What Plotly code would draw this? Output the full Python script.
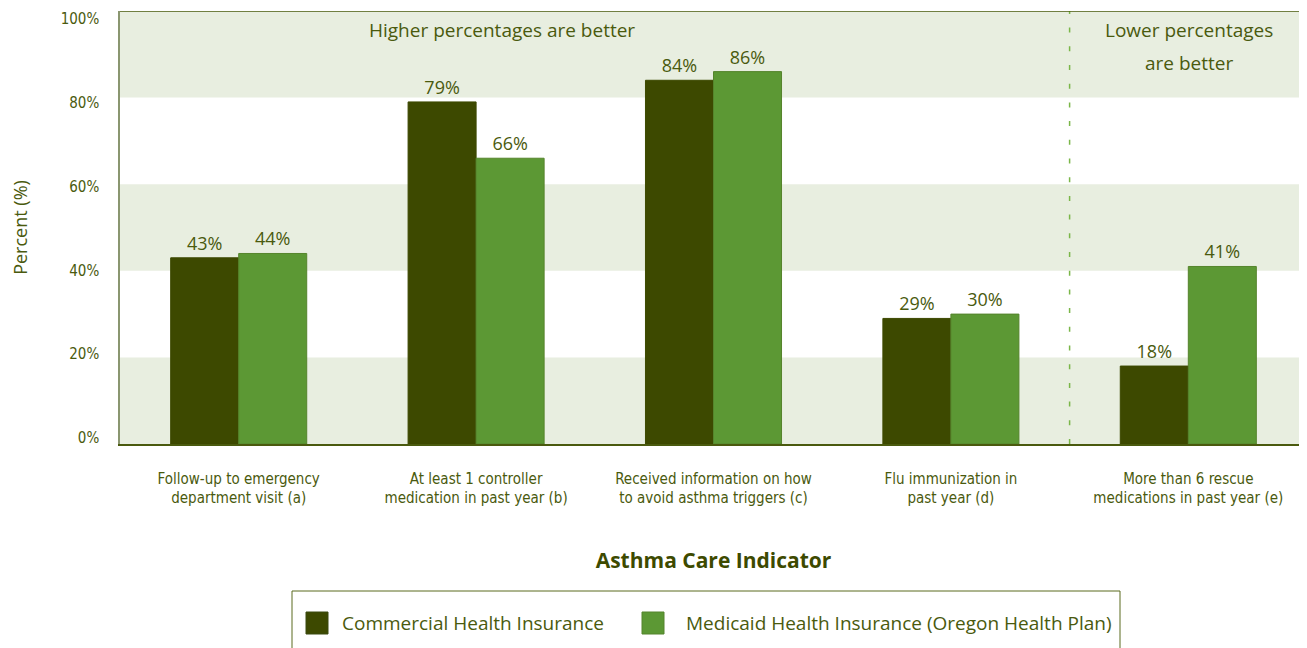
import plotly.graph_objects as go

categories = [
    "Follow-up to emergency<br>department visit (a)",
    "At least 1 controller<br>medication in past year (b)",
    "Received information on how<br>to avoid asthma triggers (c)",
    "Flu immunization in<br>past year (d)",
    "More than 6 rescue<br>medications in past year (e)",
]
commercial = [43, 79, 84, 29, 18]
medicaid = [44, 66, 86, 30, 41]
series_names = ["Commercial Health Insurance", "Medicaid Health Insurance (Oregon Health Plan)"]
y_ticks = [0, 20, 40, 60, 80, 100]

TXT = "#4A5A0E"
DARK = "#3D4900"
LIGHT = "#5C9834"
BAND = "#E8EEE0"
COND = "Liberation Sans Narrow, DejaVu Sans Condensed, Roboto, sans-serif"
REG = "Open Sans, Noto Sans, sans-serif"

# the page body adds an 8px offset, so the figure is 8px smaller and shifted
OFF = 8
W, H = 1307 - OFF, 648 - OFF
L, R, T, B = 120 - OFF, 0, 11 - OFF, 204
PW, PH = W - L - R, H - T - B


def px(x):
    return (x - OFF - L) / PW


def py(y):
    return (H - B - (y - OFF)) / PH


fig = go.Figure()
fig.add_trace(go.Bar(
    x=categories, y=commercial, name=series_names[0],
    marker=dict(color=DARK, line=dict(color=DARK, width=1)),
    text=[f"{v}%" for v in commercial], textposition="outside",
    textfont=dict(family=REG, size=18, color=TXT), cliponaxis=False,
))
fig.add_trace(go.Bar(
    x=categories, y=medicaid, name=series_names[1],
    marker=dict(color=LIGHT, line=dict(color="#55842C", width=1)),
    text=[f"{v}%" for v in medicaid], textposition="outside",
    textfont=dict(family=REG, size=18, color=TXT), cliponaxis=False,
))

shapes = []
for lo in (0, 40, 80):
    shapes.append(dict(type="rect", xref="paper", yref="y", x0=0, x1=1, y0=lo, y1=lo + 20,
                       fillcolor=BAND, line=dict(width=0), layer="below"))
shapes.append(dict(type="line", xref="x", yref="y", x0=3.5, x1=3.5, y0=0, y1=100,
                   line=dict(color="#7AB648", width=1.5, dash="5px,13.7px")))
shapes.append(dict(type="line", xref="paper", yref="y", x0=0, x1=1, y0=100, y1=100,
                   line=dict(color="#4A5A0E", width=1.5)))

# legend box (bottom edge runs off the page, as in the reference)
shapes.append(dict(type="rect", xref="paper", yref="paper", x0=px(292), x1=px(1120),
                   y0=py(700), y1=py(591), line=dict(color="#5A6A1E", width=1),
                   fillcolor="rgba(0,0,0,0)"))
legend_colors = [DARK, LIGHT]
legend_sq_x = [306, 642]
legend_txt_x = [340, 684]
annotations = [
    dict(text="Higher percentages are better", xref="x", yref="y", x=1.11, y=95.6,
         showarrow=False, font=dict(family=REG, size=19, color=TXT)),
    dict(text="Lower percentages", xref="x", yref="y", x=4.005, y=95.6,
         showarrow=False, font=dict(family=REG, size=19, color=TXT)),
    dict(text="are better", xref="x", yref="y", x=4.005, y=88.0,
         showarrow=False, font=dict(family=REG, size=19, color=TXT)),
]
for name, col, sx, tx in zip(series_names, legend_colors, legend_sq_x, legend_txt_x):
    shapes.append(dict(type="rect", xref="paper", yref="paper", x0=px(sx), x1=px(sx + 22),
                       y0=py(634), y1=py(612), fillcolor=col,
                       line=dict(color="#3A4A10" if col == DARK else "#55842C", width=1)))
    annotations.append(dict(text=name, xref="paper", yref="paper", x=px(tx), y=py(623),
                            xanchor="left", yanchor="middle", showarrow=False,
                            font=dict(family=REG, size=19, color=TXT)))

fig.update_layout(
    width=W, height=H,
    margin=dict(l=L, r=R, t=T, b=B),
    plot_bgcolor="white", paper_bgcolor="white",
    barmode="group", bargap=0.427, bargroupgap=0,
    shapes=shapes, annotations=annotations,
    showlegend=False,
    font=dict(family=REG, color=TXT),
)
fig.update_xaxes(
    range=[-0.5, 4.5], showline=True, linecolor="#4A5A0E", linewidth=1.5,
    ticks="", tickfont=dict(family=COND, size=15, color=TXT), ticklabelstandoff=20,
    title=dict(text="<b>Asthma Care Indicator</b>", font=dict(family=REG, size=21, color="#3D4A00"),
               standoff=47),
    showgrid=False, automargin=False,
)
# the reference's tick labels sit slightly inside the 0-100 span (no tick marks drawn)
label_pos = [1.4 + v * 0.968 for v in y_ticks]
fig.update_yaxes(
    range=[0, 100], tickvals=label_pos, ticktext=[f"{v}%" for v in y_ticks],
    showline=True, linecolor="#8A9670", linewidth=1.5, showgrid=False, zeroline=False,
    tickfont=dict(family=COND, size=15, color=TXT), ticklabelstandoff=16,
    ticklabeloverflow="allow",
    title=dict(text="Percent (%)", font=dict(family=REG, size=18, color=TXT), standoff=36),
    automargin=False,
)
fig.write_html("out.html")
